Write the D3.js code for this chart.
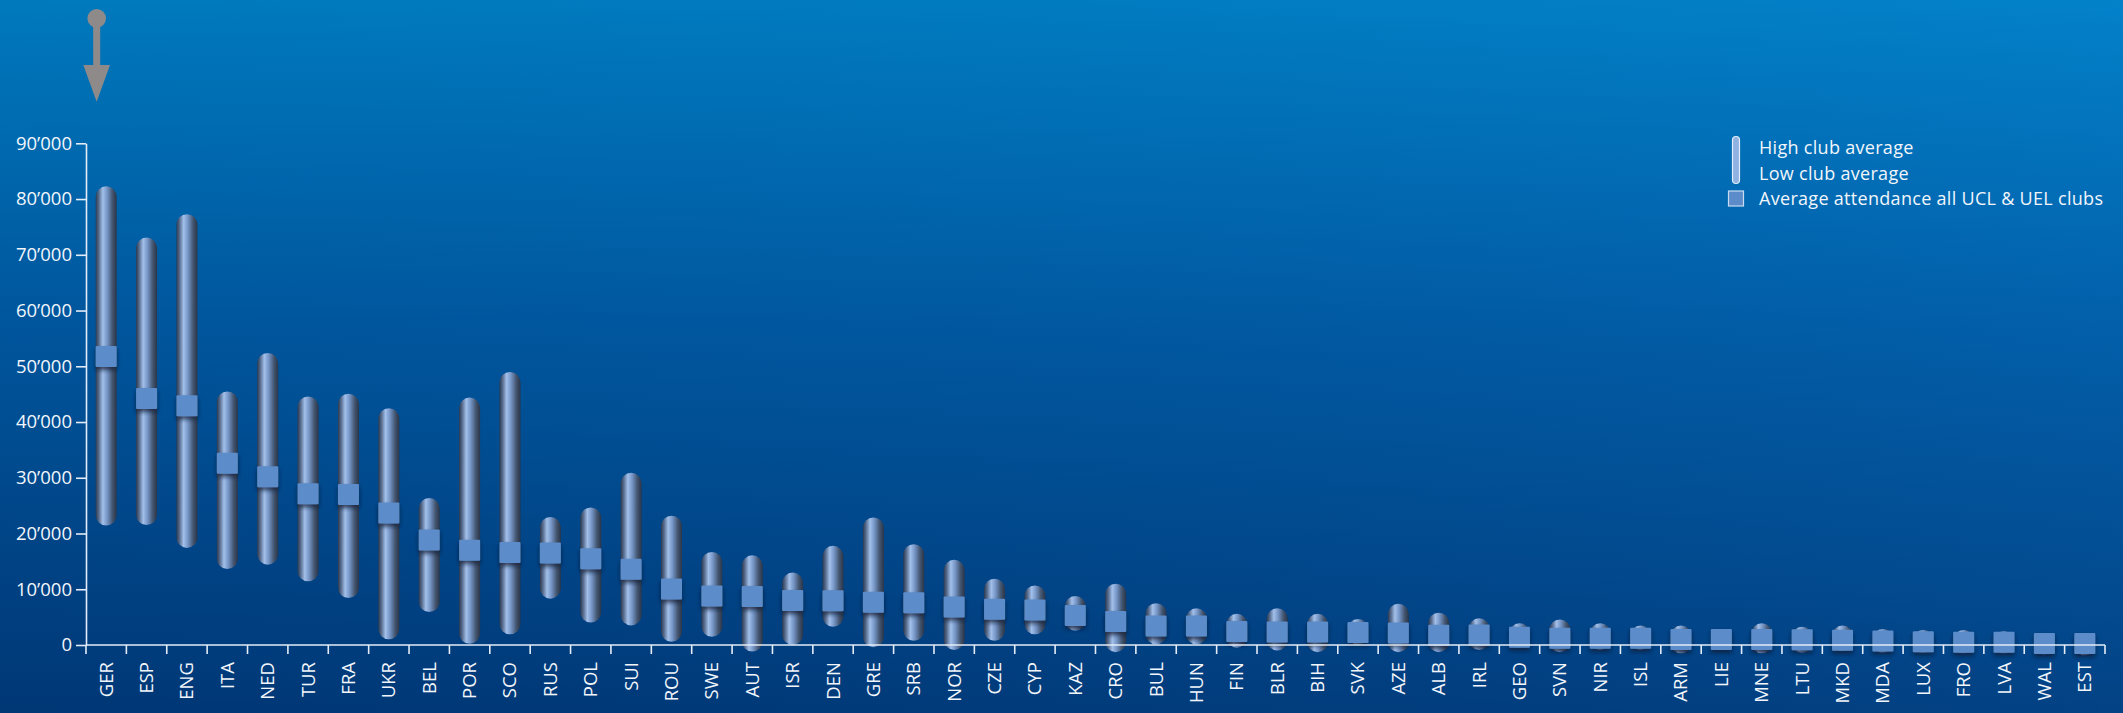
<!DOCTYPE html>
<html>
<head>
<meta charset="utf-8">
<script src="https://cdn.jsdelivr.net/npm/d3@7"></script>
<style>
  html, body { margin: 0; padding: 0; background: #003a78; }
  svg { display: block; }
  .axis text { font-family: 'Open Sans', sans-serif; font-size: 18.5px; fill: #f2f6fb; }
  .axis path, .axis line { stroke: #e3ecf7; stroke-width: 1.6; }
</style>
</head>
<body>
<svg id="chart"></svg>
<script>
// country codes, club averages (high / low) and overall average
const countries = ['GER','ESP','ENG','ITA','NED','TUR','FRA','UKR','BEL','POR','SCO','RUS','POL','SUI','ROU','SWE','AUT','ISR','DEN','GRE','SRB','NOR','CZE','CYP','KAZ','CRO','BUL','HUN','FIN','BLR','BIH','SVK','AZE','ALB','IRL','GEO','SVN','NIR','ISL','ARM','LIE','MNE','LTU','MKD','MDA','LUX','FRO','LVA','WAL','EST'];
const highAvg = [80400,71200,75400,43600,50500,42700,43200,40600,24500,42500,47100,21100,22800,29000,21300,14800,14200,11100,15900,21000,16200,13400,10000,8800,6900,9100,5600,4700,3700,4700,3700,2800,5500,3900,2900,2000,2700,2000,1600,1600,1000,2000,1400,1600,1000,800,800,600,250,250];
const lowAvg = [23300,23400,19300,15500,16300,13300,10300,2900,7800,2100,3800,10200,5900,5400,2450,3350,700,1900,5150,1500,2650,1000,2650,3800,4450,600,2000,2000,1400,900,600,1900,600,600,1000,1400,600,1000,1000,400,1000,400,500,800,500,500,400,400,200,50];
const allAvg = [51750,44200,42900,32600,30200,27150,27000,23700,18850,17000,16600,16500,15450,13600,10050,8800,8700,8000,7950,7650,7600,6800,6400,6300,5300,4200,3400,3400,2400,2350,2350,2250,2150,1750,1800,1400,1200,1200,1200,1000,1000,1000,950,850,700,600,500,500,250,250];
const yTicks = [0,10000,20000,30000,40000,50000,60000,70000,80000,90000];
const legendLabels = ['High club average','Low club average','Average attendance all UCL & UEL clubs'];

const dataset = countries.map((c, i) => ({
  country: c, high: highAvg[i], low: lowAvg[i], avg: allAvg[i]
}));

const w = 2123, h = 713;
const svg = d3.select('#chart').attr('width', w).attr('height', h);
const defs = svg.append('defs');

// background
let bg = defs.append('linearGradient').attr('id', 'bg')
  .attr('x1', 0).attr('y1', 0).attr('x2', 0).attr('y2', 1);
bg.append('stop').attr('offset', '0%').attr('stop-color', '#007ec5');
bg.append('stop').attr('offset', '45%').attr('stop-color', '#0059a3');
bg.append('stop').attr('offset', '100%').attr('stop-color', '#00397a');

let bgSide = defs.append('linearGradient').attr('id', 'bgSide')
  .attr('x1', 0).attr('y1', 0).attr('x2', 1).attr('y2', 0);
bgSide.append('stop').attr('offset', '0%').attr('stop-color', '#000').attr('stop-opacity', 0.04);
bgSide.append('stop').attr('offset', '100%').attr('stop-color', '#22aaff').attr('stop-opacity', 0.08);

// capsule shading (horizontal, like a tube)
let tube = defs.append('linearGradient').attr('id', 'tube')
  .attr('x1', 0).attr('y1', 0).attr('x2', 1).attr('y2', 0);
[['0%', '#2c3a4f'], ['14%', '#55698a'], ['34%', '#a2c0ea'], ['55%', '#7595c6'],
 ['80%', '#43556f'], ['100%', '#2a3548']].forEach(s =>
  tube.append('stop').attr('offset', s[0]).attr('stop-color', s[1]));

let shadow = defs.append('filter').attr('id', 'shadow')
  .attr('x', '-30%').attr('y', '-30%').attr('width', '160%').attr('height', '170%');
shadow.append('feDropShadow').attr('dx', 0).attr('dy', 3).attr('stdDeviation', 2)
  .attr('flood-color', '#0b1a33').attr('flood-opacity', 0.75);

svg.append('rect').attr('width', w).attr('height', h).attr('fill', 'url(#bg)');
svg.append('rect').attr('width', w).attr('height', h).attr('fill', 'url(#bgSide)');

// scales
let xScale = d3.scaleBand()
  .domain(countries)
  .range([86, 2105])
  .padding(0);

let yScale = d3.scaleLinear()
  .domain([0, 90000])
  .range([645, 143.3]);

const bw = 21;
const cx = (d) => xScale(d.country) + xScale.bandwidth() / 2;

// capsules from low to high club average
svg.append('g').selectAll('rect')
  .data(dataset)
  .enter()
  .append('rect')
  .attr('x', (d) => cx(d) - bw / 2)
  .attr('y', (d) => yScale(d.high) - bw / 2)
  .attr('width', bw)
  .attr('height', (d) => yScale(d.low) - yScale(d.high) + bw)
  .attr('rx', bw / 2)
  .attr('fill', 'url(#tube)');

// average squares
svg.append('g').selectAll('rect')
  .data(dataset)
  .enter()
  .append('rect')
  .attr('x', (d) => cx(d) - bw / 2)
  .attr('y', (d) => yScale(d.avg) - bw / 2)
  .attr('width', bw)
  .attr('height', bw)
  .attr('rx', 1)
  .attr('fill', '#5b8cc9')
  .attr('filter', 'url(#shadow)');

// AXES
let yAxis = svg.append('g')
  .attr('class', 'axis')
  .attr('transform', 'translate(86,0)')
  .call(d3.axisLeft(yScale)
    .tickValues(yTicks)
    .tickSize(10)
    .tickSizeOuter(0)
    .tickPadding(4)
    .tickFormat((d) => d === 0 ? '0' : d3.format(',')(d).replace(/,/g, '\u2019')));

let xAxis = svg.append('g').attr('class', 'axis');
xAxis.append('line')
  .attr('x1', xScale.range()[0]).attr('x2', xScale.range()[1])
  .attr('y1', yScale(0)).attr('y2', yScale(0));
xAxis.selectAll('line.tick')
  .data(countries.map((c) => xScale(c)).concat([xScale.range()[1]]))
  .enter()
  .append('line')
  .attr('class', 'tick')
  .attr('x1', (d) => d).attr('x2', (d) => d)
  .attr('y1', yScale(0)).attr('y2', yScale(0) + 9);
xAxis.selectAll('text')
  .data(countries)
  .enter()
  .append('text')
  .attr('transform', (d) => `translate(${xScale(d) + xScale.bandwidth() / 2}, 662) rotate(-90)`)
  .attr('text-anchor', 'end')
  .attr('dy', '0.35em')
  .text((d) => d);

// arrow at top left
let arrow = svg.append('g').attr('fill', '#8f8a8a');
arrow.append('circle').attr('cx', 96.7).attr('cy', 18.3).attr('r', 9.3);
arrow.append('rect').attr('x', 93.2).attr('y', 18).attr('width', 7).attr('height', 50);
arrow.append('path').attr('d', 'M83.3,65 L110,65 L96.7,101.7 Z');

// legend
let legend = svg.append('g');
legend.append('rect')
  .attr('x', 1732.5).attr('y', 136.5).attr('width', 7).attr('height', 47)
  .attr('rx', 3.5)
  .attr('fill', '#8fb2e2').attr('stroke', '#e4eefa').attr('stroke-width', 1.2);
legend.append('rect')
  .attr('x', 1728.5).attr('y', 191).attr('width', 15).attr('height', 15)
  .attr('fill', '#5b8cc9').attr('stroke', '#c9dbf0').attr('stroke-width', 1.2);
legend.selectAll('text')
  .data(legendLabels)
  .enter()
  .append('text')
  .attr('x', 1759)
  .attr('y', (d, i) => [153.5, 180, 204.5][i])
  .attr('font-family', "'Open Sans', sans-serif")
  .attr('font-size', '18px')
  .attr('letter-spacing', '0.3px')
  .attr('fill', '#f2f6fb')
  .text((d) => d);
</script>
</body>
</html>
